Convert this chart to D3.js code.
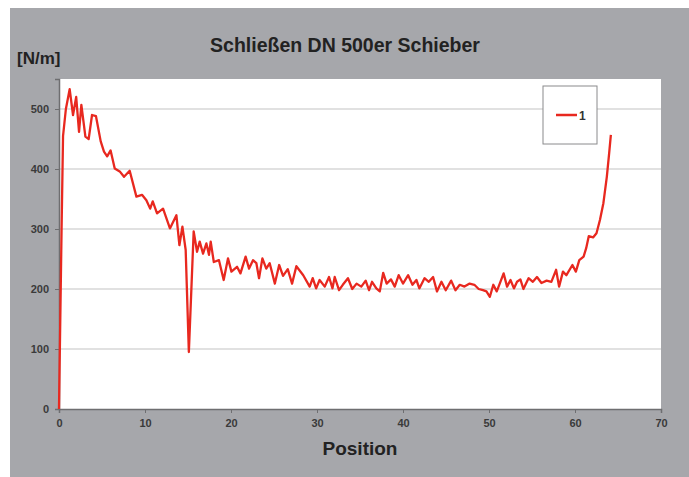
<!DOCTYPE html>
<html>
<head>
<meta charset="utf-8">
<script src="https://cdn.jsdelivr.net/npm/d3@7"></script>
<style>
  body { margin: 0; background: #fff; }
  text { font-family: "Liberation Sans", Arial, sans-serif; }
</style>
</head>
<body>
<script>
// chart values
const positions = [0, 0.3, 0.47, 0.8, 1.24, 1.63, 2.0, 2.33, 2.6, 3.07, 3.45, 3.84, 4.3, 4.85, 5.23, 5.6, 6.0, 6.48,
  7.06, 7.56, 8.22, 9.0, 9.65, 10.16, 10.6, 10.9, 11.4, 12.1, 12.9, 13.65, 14.0, 14.35, 14.73, 15.1, 15.66,
  16.05, 16.36, 16.75, 17.14, 17.44, 17.64, 18.0, 18.6, 19.15, 19.65, 20.05, 20.7, 21.1, 21.7, 22.1, 22.56,
  22.95, 23.26, 23.65, 24.1, 24.5, 25.1, 25.6, 26.05, 26.6, 27.1, 27.6, 28.4, 29.15, 29.5, 29.9, 30.3, 30.9,
  31.4, 31.8, 32.06, 32.56, 33.0, 33.6, 34.1, 34.6, 35.15, 35.66, 36.05, 36.4, 36.9, 37.3, 37.7, 38.1, 38.6,
  39.04, 39.5, 40.0, 40.6, 41.1, 41.56, 41.9, 42.5, 43.0, 43.5, 43.95, 44.47, 44.97, 45.6, 46.1, 46.6, 47.15,
  47.75, 48.3, 48.8, 49.3, 49.7, 50.1, 50.5, 50.9, 51.25, 51.7, 52.1, 52.5, 52.9, 53.26, 53.65, 54.0, 54.6,
  55.1, 55.58, 56.1, 56.7, 57.25, 57.8, 58.15, 58.6, 59.0, 59.7, 60.1, 60.5, 61.0, 61.3, 61.6, 62.1, 62.5,
  62.9, 63.3, 63.7, 63.97, 64.17];
const forces = [0, 300, 455, 500, 533, 490, 520, 462, 507, 454, 450, 490, 488, 446, 429, 421, 431, 401,
  396, 387, 397, 354, 357, 348, 334, 346, 326, 334, 301, 323, 273, 304, 265, 95, 296,
  262, 279, 259, 276, 257, 279, 245, 248, 215, 251, 229, 237, 226, 254, 234, 248,
  243, 218, 251, 234, 243, 209, 240, 222, 233, 209, 238, 223, 204, 218, 201, 215, 204,
  220, 201, 220, 198, 207, 218, 200, 209, 204, 214, 198, 212, 201, 196, 227, 209, 216,
  204, 223, 209, 223, 207, 215, 201, 218, 212, 220, 196, 212, 198, 214, 198, 207, 204,
  209, 207, 200, 198, 196, 187, 207, 196, 209, 226, 204, 215, 201, 212, 216, 200, 218,
  212, 220, 210, 214, 212, 232, 204, 229, 223, 240, 229, 248, 254, 268, 288, 286, 293,
  315, 343, 387, 426, 457];
const xTicks = [0, 10, 20, 30, 40, 50, 60, 70];
const yTicks = [0, 100, 200, 300, 400, 500];
const seriesName = "1";

const width = 689, height = 477;
const svg = d3.select("body").append("svg")
  .attr("width", width)
  .attr("height", height);

// gray frame
svg.append("rect")
  .attr("x", 10).attr("y", 8)
  .attr("width", width - 10).attr("height", height - 8)
  .attr("fill", "#a6a7ab");

const plot = { left: 59, right: 661, top: 79, bottom: 409 };

const x = d3.scaleLinear().domain([0, 70]).range([plot.left, plot.right]);
const y = d3.scaleLinear().domain([0, 550]).range([plot.bottom, plot.top]);

svg.append("rect")
  .attr("x", plot.left).attr("y", plot.top)
  .attr("width", plot.right - plot.left).attr("height", plot.bottom - plot.top)
  .attr("fill", "#fff");

// grid lines
svg.append("g")
  .selectAll("line")
  .data(yTicks.filter(d => d > 0))
  .join("line")
  .attr("x1", plot.left).attr("x2", plot.right)
  .attr("y1", d => y(d)).attr("y2", d => y(d))
  .attr("stroke", "#c4c4c4")
  .attr("stroke-width", 1.2);

// axes
const xAxis = svg.append("g")
  .attr("transform", `translate(0,${plot.bottom})`)
  .call(d3.axisBottom(x).tickValues(xTicks).tickSize(4).tickPadding(6));
const yAxis = svg.append("g")
  .attr("transform", `translate(${plot.left},0)`)
  .call(d3.axisLeft(y).tickValues(yTicks).tickSize(4).tickPadding(6));

[xAxis, yAxis].forEach(g => {
  g.select(".domain").attr("stroke", "#6e6e70").attr("stroke-width", 1.5);
  g.selectAll(".tick line").attr("stroke", "#6e6e70");
  g.selectAll(".tick text")
    .attr("fill", "#3a3a3a")
    .style("font-size", "11px")
    .style("font-weight", "bold")
    .style("font-family", "'Liberation Sans', Arial, sans-serif");
});

// the line
const line = d3.line()
  .x((d, i) => x(positions[i]))
  .y(d => y(d));

svg.append("path")
  .datum(forces)
  .attr("d", line)
  .attr("fill", "none")
  .attr("stroke", "#e8281f")
  .attr("stroke-width", 2.3)
  .attr("stroke-linejoin", "round");

// legend
const legend = svg.append("g");
legend.append("rect")
  .attr("x", 543).attr("y", 86)
  .attr("width", 54).attr("height", 58)
  .attr("fill", "#fff")
  .attr("stroke", "#8a8a8c");
legend.append("line")
  .attr("x1", 556).attr("x2", 577)
  .attr("y1", 115).attr("y2", 115)
  .attr("stroke", "#e8281f")
  .attr("stroke-width", 2.5);
legend.append("text")
  .attr("x", 579).attr("y", 119.5)
  .attr("fill", "#333")
  .style("font-size", "12px")
  .style("font-weight", "bold")
  .text(seriesName);

// titles
svg.append("text")
  .attr("x", 345).attr("y", 52)
  .attr("text-anchor", "middle")
  .attr("fill", "#222")
  .style("font-size", "19.5px")
  .style("font-weight", "bold")
  .text("Schließen DN 500er Schieber");

svg.append("text")
  .attr("x", 17).attr("y", 64)
  .attr("fill", "#222")
  .style("font-size", "17px")
  .style("font-weight", "bold")
  .text("[N/m]");

svg.append("text")
  .attr("x", 360).attr("y", 455)
  .attr("text-anchor", "middle")
  .attr("fill", "#222")
  .style("font-size", "19px")
  .style("font-weight", "bold")
  .text("Position");
</script>
</body>
</html>
